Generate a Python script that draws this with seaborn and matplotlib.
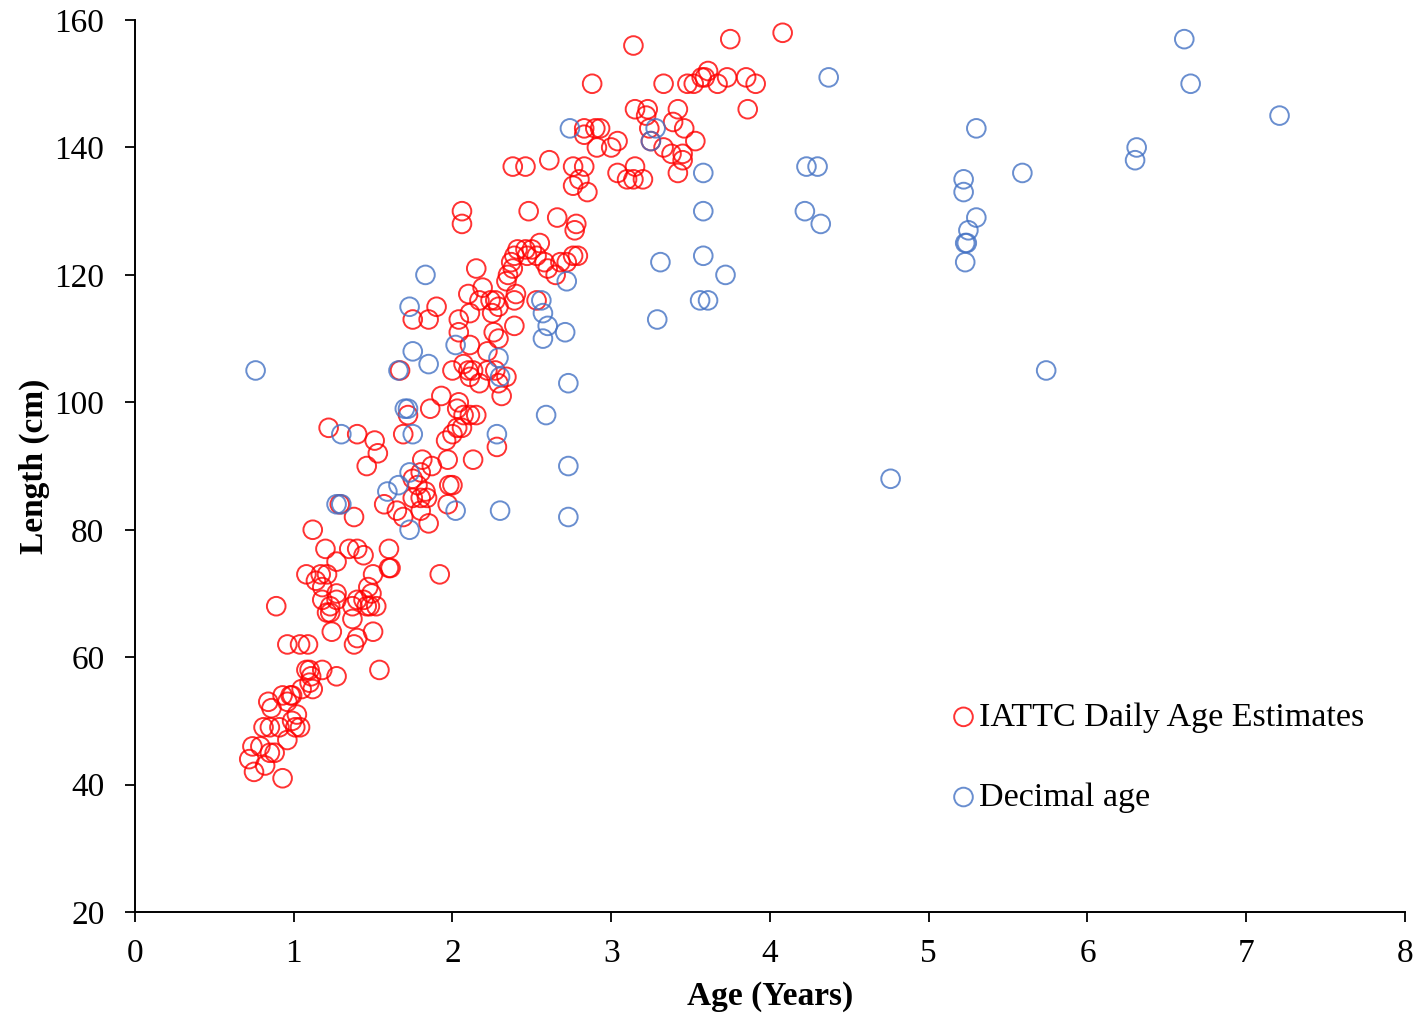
import matplotlib
matplotlib.use("Agg")
import matplotlib.pyplot as plt
import seaborn as sns
import pandas as pd

# ---- data: IATTC daily age estimates (red) ----
iattc_age = [
    0.72, 0.74, 0.75, 0.79, 0.81, 0.82, 0.84, 0.85, 0.86, 0.85, 0.88, 0.89, 0.91, 0.93,
    0.93, 0.96, 0.96, 0.96, 0.98, 0.99, 0.99, 1.01, 1.04, 1.04, 1.02, 1.05, 1.08, 1.08,
    1.09, 1.10, 1.10, 1.12, 1.11, 1.12, 1.14, 1.17, 1.18, 1.18, 1.20, 1.18, 1.21, 1.21,
    1.22, 1.23, 1.23, 1.24, 1.27, 1.27, 1.27, 1.27, 1.29, 1.35, 1.37, 1.38, 1.38, 1.40,
    1.40, 1.40, 1.40, 1.37, 1.44, 1.44, 1.46, 1.47, 1.46, 1.48, 1.49, 1.50, 1.50, 1.51,
    1.52, 1.53, 1.54, 1.57, 1.60, 1.60, 1.61,
    1.67, 1.69, 1.65, 1.69, 1.72, 1.75, 1.78, 1.75, 1.80, 1.83, 1.84, 1.75, 1.80, 1.81,
    1.87, 1.80, 1.85, 1.85, 1.86, 1.90, 1.93, 1.92, 1.96, 1.97, 1.98, 2.00, 1.97, 2.00,
    2.00, 2.03, 2.04, 2.04, 2.04, 2.03, 2.06,
    2.06, 2.06, 2.07, 2.07, 2.10, 2.11, 2.15, 2.11, 2.11, 2.11, 2.10, 2.13, 2.13, 2.15,
    2.17, 2.17, 2.19, 2.22, 2.22, 2.24, 2.25, 2.26, 2.27, 2.27, 2.28, 2.29, 2.29, 2.29,
    2.31, 2.34, 2.34, 2.35, 2.37, 2.38, 2.38, 2.39, 2.39, 2.40, 2.39, 2.41, 2.46, 2.46,
    2.47, 2.48, 2.50, 2.53, 2.53, 2.55, 2.58, 2.60, 2.61, 2.65, 2.66, 2.68,
    2.72, 2.76, 2.76, 2.76, 2.78, 2.77, 2.79, 2.80, 2.83, 2.83, 2.83, 2.85, 2.88, 2.90,
    2.93, 2.91, 3.00, 3.04, 3.04, 3.10, 3.14, 3.15, 3.20, 3.14, 3.15, 3.23, 3.22, 3.24,
    3.25, 3.33, 3.33, 3.38, 3.39, 3.42, 3.42, 3.45, 3.45, 3.46, 3.48, 3.52, 3.53, 3.57,
    3.59, 3.61, 3.67, 3.73, 3.75, 3.85, 3.86, 3.91, 4.08,
]
iattc_length = [
    44, 46, 42, 46, 49, 43, 53, 49, 52, 45, 45, 68, 49, 41,
    54, 62, 47, 53, 54, 50, 54, 49, 49, 62, 51, 55, 73, 58,
    62, 58, 56, 55, 57, 80, 72, 73, 58, 71, 77, 69, 73, 67,
    96, 68, 67, 64, 75, 70, 69, 57, 84, 77, 66, 82, 62, 77,
    95, 69, 63, 68, 76, 69, 90, 71, 68, 68, 70, 73, 64, 94,
    68, 92, 58, 84, 77, 74, 74,
    105, 95, 83, 82, 98, 113, 87, 85, 85, 86, 85, 88, 89, 91,
    90, 83, 81, 113, 99, 115, 101, 73, 94, 91, 87, 87, 84, 95,
    105, 96, 113, 111, 100, 99, 96,
    130, 128, 106, 98, 105, 98, 98, 104, 109, 114, 117, 105, 91, 121,
    116, 103, 118, 105, 108, 116, 114, 111, 116, 105, 93, 115, 103, 110,
    101, 104, 119, 120, 122, 121, 137, 123, 116, 117, 112, 124, 124, 137,
    123, 130, 124, 116, 123, 125, 122, 121, 138, 120, 129, 122,
    122, 123, 137, 134, 128, 127, 123, 135, 143, 142, 137, 133, 150, 143,
    143, 140, 140, 136, 141, 135, 135, 137, 135, 156, 146, 146, 145, 143,
    141, 150, 140, 139, 144, 146, 136, 139, 138, 143, 150, 150, 141, 151,
    151, 152, 150, 151, 157, 151, 146, 150, 158,
]

# ---- data: decimal age (blue) ----
decimal_age = [
    0.76, 4.37, 4.23, 4.30, 4.22, 4.32, 3.72, 3.58, 3.58, 3.58, 3.56, 3.61, 3.31, 3.29,
    3.28, 3.25, 2.74, 2.72, 2.56, 2.57, 2.60, 2.57, 2.71, 2.73, 2.59, 2.73, 2.73, 2.30,
    2.28, 2.29, 2.30, 2.02, 2.02, 1.83, 1.73, 1.75, 1.85, 1.66, 1.70, 1.72, 1.75, 1.73,
    1.66, 1.59, 1.73, 1.30, 1.27, 1.30, 4.76, 5.22, 5.22, 5.25, 5.23, 5.24, 5.23, 5.30,
    5.30, 5.59, 5.74, 6.31, 6.30, 6.61, 6.65, 7.21,
]
decimal_length = [
    105, 151, 137, 137, 130, 128, 120, 136, 130, 123, 116, 116, 122, 113,
    143, 141, 143, 119, 116, 114, 112, 110, 111, 103, 98, 90, 82, 83,
    95, 107, 104, 109, 83, 120, 115, 108, 106, 105, 99, 99, 95, 89,
    87, 86, 80, 95, 84, 84, 88, 135, 133, 127, 125, 125, 122, 129,
    143, 136, 105, 140, 138, 157, 150, 145,
]

series_labels = ["IATTC Daily Age Estimates", "Decimal age"]
series_colors = ["#FF0000", "#4472C4"]
x_ticks = [0, 1, 2, 3, 4, 5, 6, 7, 8]
y_ticks = [20, 40, 60, 80, 100, 120, 140, 160]

df_red = pd.DataFrame({"age": iattc_age, "length": iattc_length})
df_blue = pd.DataFrame({"age": decimal_age, "length": decimal_length})

sns.set_theme(style="ticks")
plt.rcParams["font.family"] = ["Liberation Serif", "DejaVu Serif"]
plt.rcParams["text.color"] = "black"
plt.rcParams["axes.labelcolor"] = "black"

fig = plt.figure(figsize=(14.19, 10.17), dpi=100)
ax = fig.add_axes([0.0951, 0.1032, 0.8950, 0.8771])

for df, lab, col in zip([df_red, df_blue], series_labels, series_colors):
    sns.scatterplot(data=df, x="age", y="length", ax=ax, s=180,
                    facecolors="none", edgecolor=col, linewidth=1.4,
                    alpha=0.8, label=lab, legend=False)

ax.set_xlim(0, 8)
ax.set_ylim(20, 160)
ax.set_xticks(x_ticks)
ax.set_yticks(y_ticks)
ax.set_xticklabels([str(t) for t in x_ticks])
ax.set_yticklabels([str(t) for t in y_ticks])

for side in ["top", "right"]:
    ax.spines[side].set_visible(False)
for side in ["left", "bottom"]:
    ax.spines[side].set_color("black")
    ax.spines[side].set_linewidth(1.4)

ax.tick_params(axis="both", direction="out", length=7, width=1.3,
               color="black", labelsize=24, labelcolor="black")
ax.tick_params(axis="x", pad=12)
ax.tick_params(axis="y", pad=15)

ax.set_xlabel("Age (Years)", fontsize=24, fontweight="bold", labelpad=9,
              color="black")
ax.set_ylabel("Length (cm)", fontsize=24, fontweight="bold", labelpad=3,
              color="black")

leg = ax.legend(loc="center left", bbox_to_anchor=(0.673, 0.2552),
                bbox_transform=fig.transFigure, frameon=False,
                fontsize=24.5, handlelength=0.5, handletextpad=0.2,
                labelspacing=1.45, borderpad=0, borderaxespad=0,
                scatterpoints=1, markerscale=1.0)
for t in leg.get_texts():
    t.set_color("black")

fig.savefig("out.png", dpi=100, facecolor="white")
